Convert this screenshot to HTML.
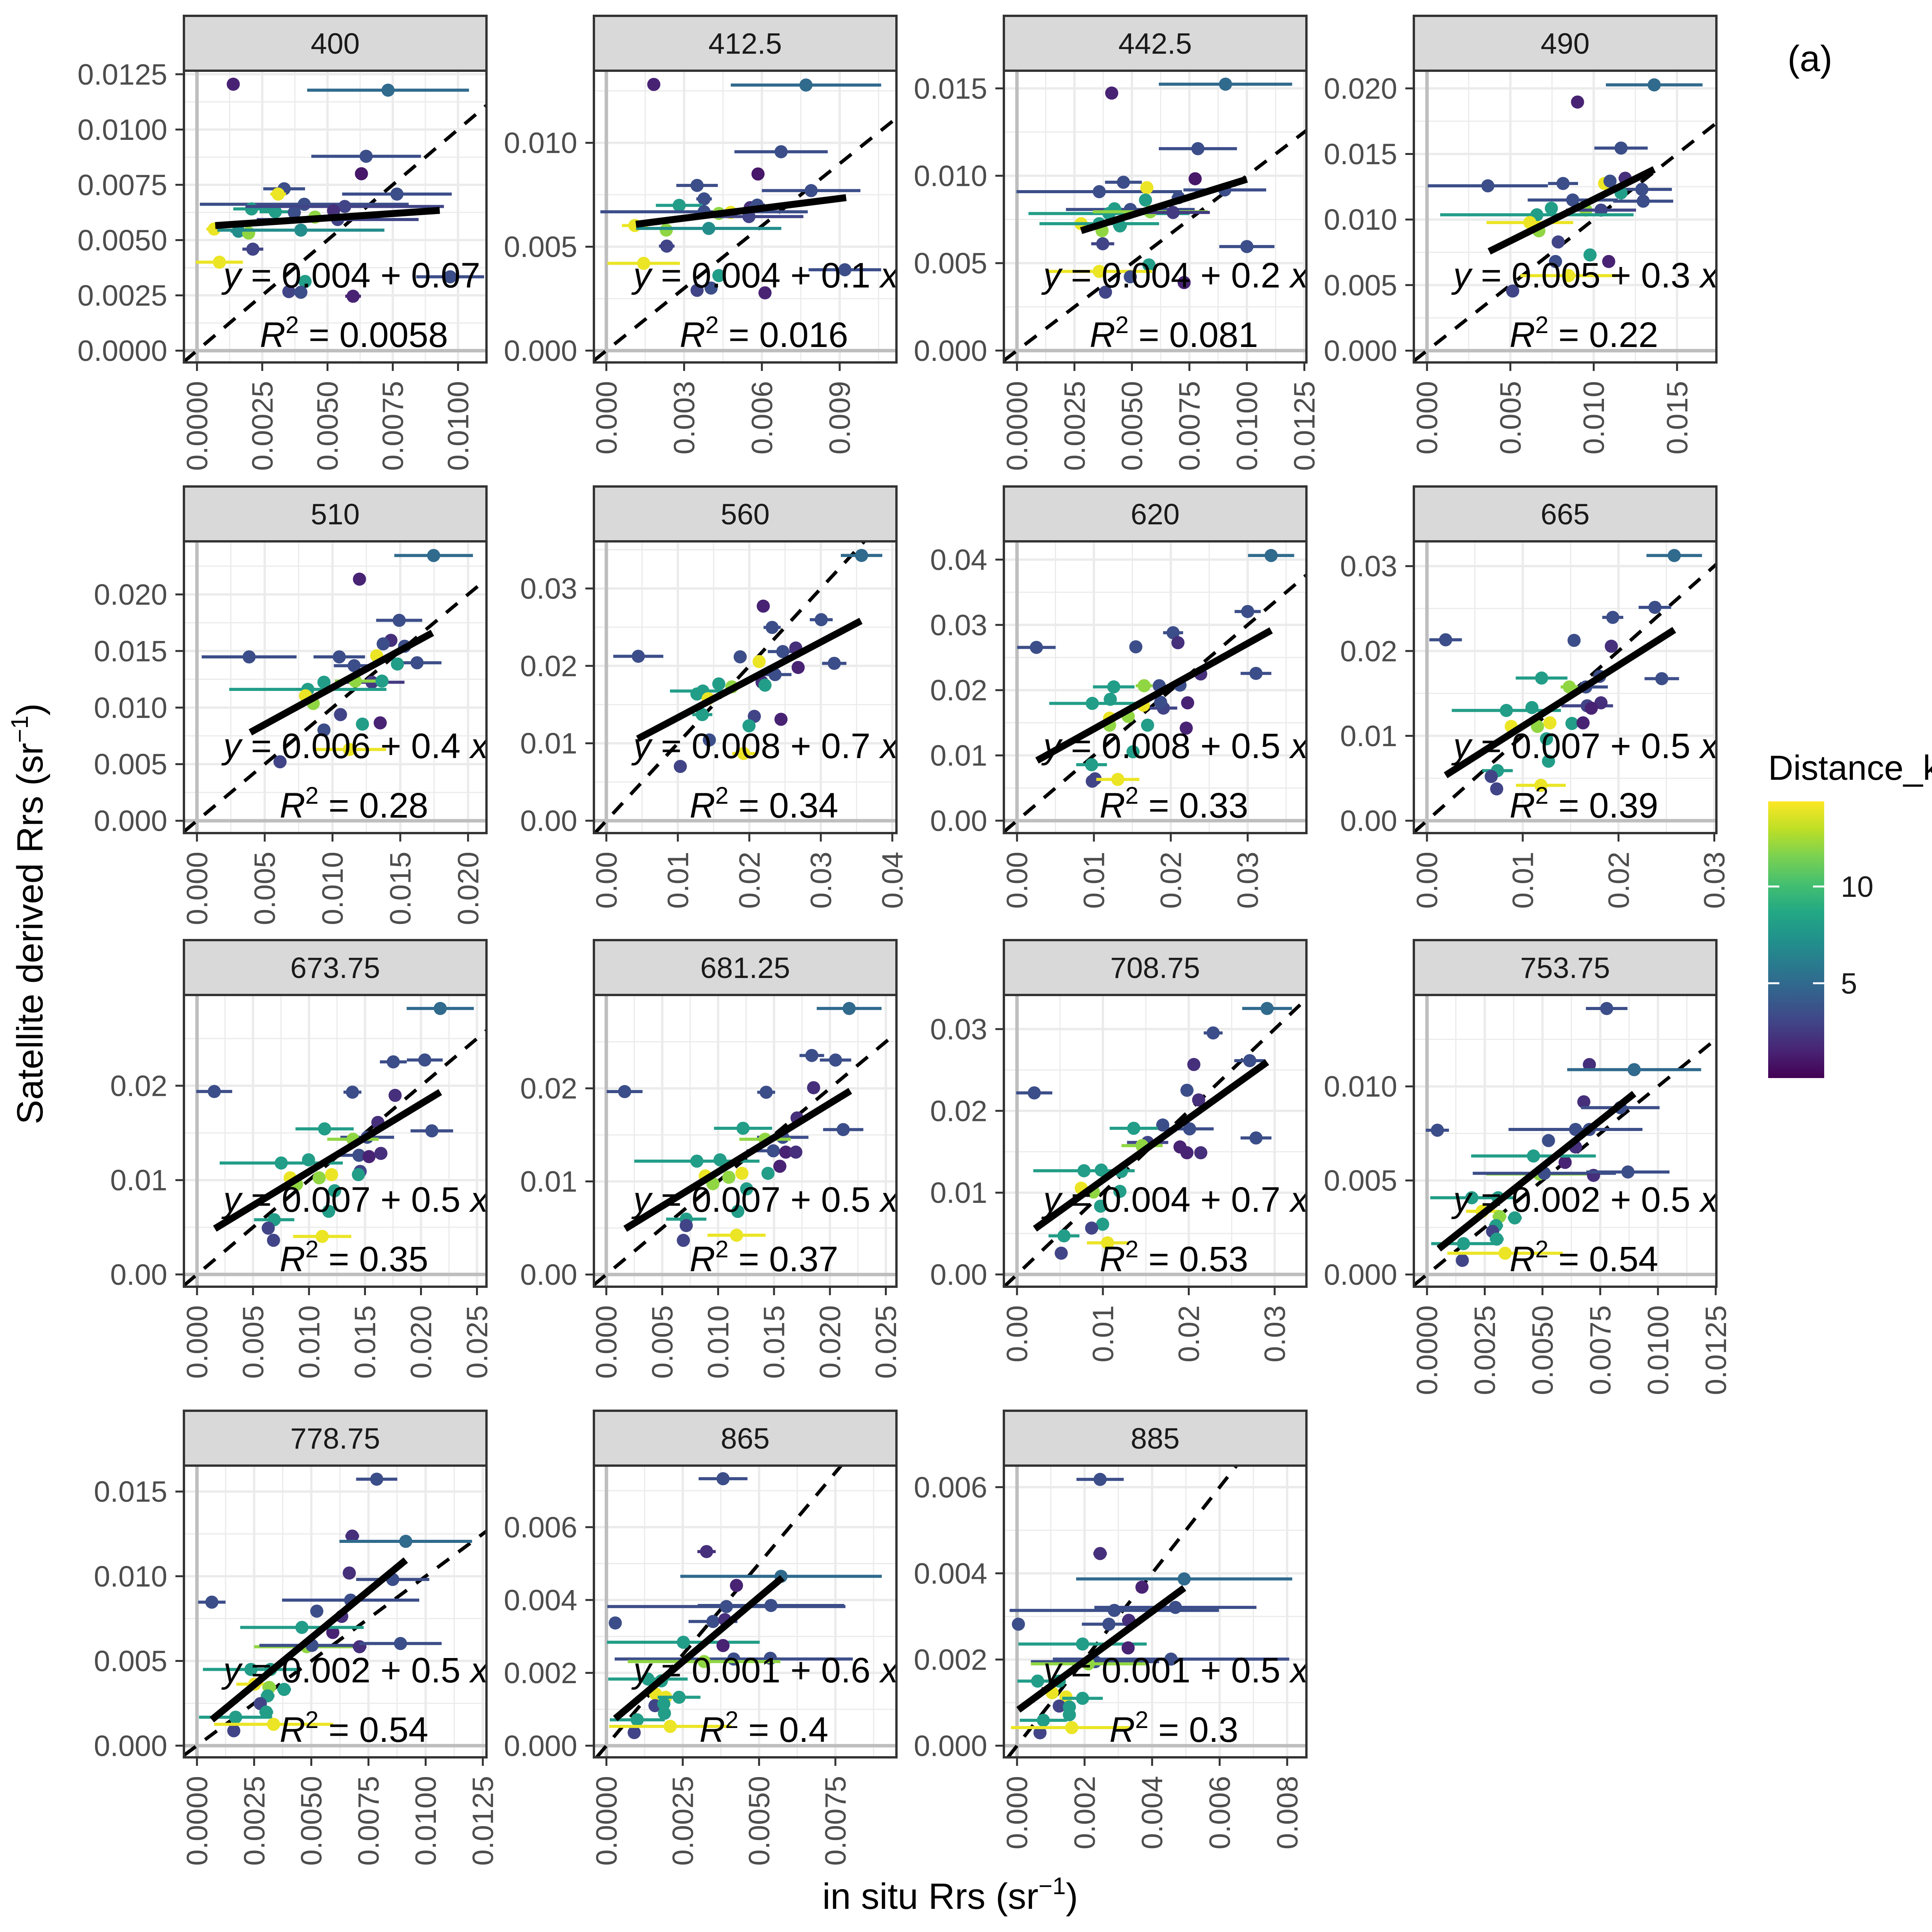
<!DOCTYPE html>
<html><head><meta charset="utf-8"><title>Satellite vs in situ Rrs</title>
<style>html,body{margin:0;padding:0;background:#fff;width:5192px;height:5025px;overflow:hidden}svg{display:block;position:absolute;left:0;top:0}text{font-family:"Liberation Sans",Arial,sans-serif}</style></head>
<body>
<svg id="chart" xmlns="http://www.w3.org/2000/svg" width="5192" height="5025" viewBox="0 0 5192 5025" overflow="hidden">
<rect x="0" y="0" width="5192" height="5025" fill="#fff"/>
<g id="panels"></g>
<text x="110" y="2365" transform="rotate(-90 110 2365)" text-anchor="middle" font-size="95" fill="#000">Satellite derived Rrs (sr<tspan font-size="62" dy="-38">−1</tspan><tspan dy="38">)</tspan></text>
<text x="2459" y="4940" text-anchor="middle" font-size="95" fill="#000">in situ Rrs (sr<tspan font-size="62" dy="-38">−1</tspan><tspan dy="38">)</tspan></text>
<text x="4626" y="184" font-size="95" fill="#000">(a)</text>
<text x="4576" y="2018" font-size="90" fill="#000">Distance_km</text>
<defs><linearGradient id="vir" x1="0" y1="1" x2="0" y2="0">
<stop offset="0" stop-color="#440154"/><stop offset="0.1" stop-color="#482475"/><stop offset="0.2" stop-color="#414487"/><stop offset="0.3" stop-color="#355f8d"/><stop offset="0.4" stop-color="#2a788e"/><stop offset="0.5" stop-color="#21918c"/><stop offset="0.6" stop-color="#22a884"/><stop offset="0.7" stop-color="#44bf70"/><stop offset="0.8" stop-color="#7ad151"/><stop offset="0.9" stop-color="#bddf26"/><stop offset="1" stop-color="#fde725"/>
</linearGradient></defs>
<rect x="4576" y="2074" width="145" height="716" fill="url(#vir)"/>
<g id="legend"></g>
</svg>
<script>
// ---------- data ----------
const bands = ["400","412.5","442.5","490","510","560","620","665","673.75","681.25","708.75","753.75","778.75","865","885"];
const xMin = [-0.0005,-0.00048,-0.00057,-0.00079,-0.00096,-0.00174,-0.00171,-0.00137,-0.00117,-0.00111,-0.00153,-0.00057,-0.00057,-0.00041,-0.00039];
const xMax = [0.01109,0.01119,0.01259,0.01736,0.02136,0.04058,0.03764,0.03022,0.02585,0.02595,0.0337,0.01253,0.01266,0.0095,0.00857];
const yMin = [-0.000534,-0.00057,-0.00068,-0.0009,-0.00109,-0.0016,-0.0019,-0.00146,-0.0013,-0.00131,-0.0015,-0.00065,-0.00069,-0.00032,-0.00027];
const yMax = [0.01266,0.01347,0.01601,0.02135,0.02469,0.03609,0.0428,0.03292,0.02962,0.03003,0.03417,0.01486,0.01653,0.00769,0.0065];
const xTicks = [
 ["0.0000","0.0025","0.0050","0.0075","0.0100"],["0.000","0.003","0.006","0.009"],["0.0000","0.0025","0.0050","0.0075","0.0100","0.0125"],
 ["0.000","0.005","0.010","0.015"],["0.000","0.005","0.010","0.015","0.020"],["0.00","0.01","0.02","0.03","0.04"],["0.00","0.01","0.02","0.03"],
 ["0.00","0.01","0.02","0.03"],["0.000","0.005","0.010","0.015","0.020","0.025"],["0.000","0.005","0.010","0.015","0.020","0.025"],
 ["0.00","0.01","0.02","0.03"],["0.0000","0.0025","0.0050","0.0075","0.0100","0.0125"],["0.0000","0.0025","0.0050","0.0075","0.0100","0.0125"],
 ["0.0000","0.0025","0.0050","0.0075"],["0.000","0.002","0.004","0.006","0.008"]];
const yTicks = [
 ["0.0000","0.0025","0.0050","0.0075","0.0100","0.0125"],["0.000","0.005","0.010"],["0.000","0.005","0.010","0.015"],
 ["0.000","0.005","0.010","0.015","0.020"],["0.000","0.005","0.010","0.015","0.020"],["0.00","0.01","0.02","0.03"],["0.00","0.01","0.02","0.03","0.04"],
 ["0.00","0.01","0.02","0.03"],["0.00","0.01","0.02"],["0.00","0.01","0.02"],["0.00","0.01","0.02","0.03"],["0.000","0.005","0.010"],
 ["0.000","0.005","0.010","0.015"],["0.000","0.002","0.004","0.006"],["0.000","0.002","0.004","0.006"]];
const fitIntercept = [0.0056,0.0059,0.00572,0.00521,0.00523,0.00844,0.00751,0.00395,0.00371,0.00367,0.00401,0.00087,0.00081,0.00054,0.00081];
const fitSlope = [0.08,0.158,0.408,0.632,0.655,0.488,0.655,0.718,0.719,0.736,0.754,0.975,1.111,0.707,0.576];
const fitX0 = [0.0007,0.00114,0.00279,0.00373,0.00394,0.00439,0.0026,0.00195,0.00159,0.00169,0.00209,0.00051,0.00065,0.00029,0.00004];
const fitX1 = [0.0093,0.00925,0.01,0.01363,0.01737,0.03561,0.03305,0.02582,0.02172,0.02182,0.02912,0.00897,0.00913,0.00576,0.00495];
const eqIntercept = ["0.004","0.004","0.004","0.005","0.006","0.008","0.008","0.007","0.007","0.007","0.004","0.002","0.002","0.001","0.001"];
const eqSlope = ["0.07","0.1","0.2","0.3","0.4","0.7","0.5","0.5","0.5","0.5","0.7","0.5","0.5","0.6","0.5"];
const r2Labels = ["0.0058","0.016","0.081","0.22","0.28","0.34","0.33","0.39","0.35","0.37","0.53","0.54","0.54","0.4","0.3"];

const ptX = [
 [.00139,.00732,.00648,.0063,.00334,.00766,.00311,.00411,.00209,.003,.00373,.00566,.00523,.00452,.00539,.00066,.00159,.00198,.00398,.00214,.00086,.00414,.00352,.00398,.00598,.0097],
 [.00183,.0077,.00674,.00585,.0035,.0079,.00377,.00281,.00377,.00434,.0048,.00555,.0055,.00582,.0011,.00231,.00395,.00233,.00144,.00434,.0035,.00404,.00612,.0092],
 [.00412,.00907,.00787,.00775,.00463,.00358,.00904,.00565,.00559,.00703,.00493,.00424,.004,.0058,.00679,.00279,.00358,.00448,.0037,.00373,.01,.00574,.00358,.00493,.00727,.00385],
 [.01363,.00903,.01164,.00365,.00816,.01065,.01098,.01189,.01289,.01164,.01297,.00874,.00746,.00953,.01044,.00659,.00617,.00671,.00787,.00978,.00771,.0109,.0085,.00514],
 [.01746,.01199,.01492,.00385,.0105,.01431,.01374,.01532,.01326,.0116,.01624,.01479,.01291,.01365,.00937,.00818,.01168,.00801,.00858,.01059,.01221,.01352,.00937,.01125,.00613],
 [.0357,.02195,.02319,.03006,.00447,.01872,.02137,.02468,.0265,.03188,.02683,.0236,.02178,.02219,.01573,.0135,.01267,.01756,.01424,.01342,.0207,.02443,.01996,.01441,.01921,.01035],
 [.03305,.00252,.01545,.03,.0203,.02093,.03108,.02389,.0185,.0212,.01653,.01258,.02219,.01904,.01868,.01644,.01213,.00979,.01446,.01204,.01204,.01698,.02201,.01509,.0097,.00979,.01015,.01311],
 [.02582,.00195,.01536,.0238,.0194,.01925,.02452,.01197,.01803,.01659,.01486,.00829,.01096,.01673,.01817,.01716,.0088,.01154,.01284,.01514,.0163,.01248,.01269,.00736,.00671,.00728,.0119],
 [.02172,.00154,.01753,.02034,.01388,.01769,.02097,.01139,.01615,.0152,.01393,.01446,.01536,.01642,.00752,.00996,.00832,.01091,.01202,.00889,.01457,.01441,.01229,.01176,.00689,.00636,.00683,.01118],
 [.02172,.00164,.01838,.0205,.0143,.01854,.02119,.01223,.01706,.01578,.0142,.01494,.01605,.01695,.0081,.01017,.00885,.01096,.01213,.00953,.01446,.01552,.01255,.01176,.00715,.00715,.00689,.01165],
 [.02912,.00201,.02284,.0271,.02059,.01979,.02115,.02783,.01697,.01359,.0201,.01521,.01456,.01898,.01979,.0214,.0078,.00981,.01215,.00748,.0089,.01198,.00973,.00997,.00547,.00869,.00515,.01054],
 [.00778,.00045,.00703,.00897,.00679,.00837,.00643,.00703,.00526,.00643,.00598,.00461,.00487,.00508,.00721,.0087,.00194,.00308,.00239,.00314,.0038,.00299,.00284,.00302,.00158,.00153,.00338],
 [.00786,.00065,.00679,.00913,.00666,.00856,.00672,.00524,.00633,.00594,.00459,.0048,.00503,.00711,.0089,.00236,.00322,.00252,.00316,.00381,.00309,.00277,.00303,.00169,.00161,.00335],
 [.00382,.00328,.00572,.00426,.00539,.00393,.00029,.00349,.00388,.00252,.00382,.00417,.00537,.0032,.00136,.0018,.00161,.00194,.00238,.00159,.00188,.0019,.00101,.00091,.00209],
 [.00246,.00246,.00495,.0037,.00469,.00288,.00004,.00272,.00331,.00194,.00329,.00231,.00456,.00211,.00061,.00125,.00104,.00145,.00194,.00125,.00155,.00155,.00078,.00068,.00162]];
const ptY = [
 [.01205,.01178,.00879,.0080,.00732,.00708,.00708,.00662,.00641,.00628,.00625,.00652,.00633,.00604,.00593,.0055,.0054,.00532,.00545,.00459,.004,.00313,.00267,.00264,.00246,.00334],
 [.01281,.01278,.00957,.0085,.00795,.0077,.0073,.00699,.00668,.0066,.00665,.00688,.00645,.007,.00602,.0058,.00588,.00503,.0042,.00361,.0029,.00301,.00278,.00389],
 [.01473,.01524,.01155,.00983,.00963,.00909,.00919,.00932,.00861,.00875,.00807,.00811,.00784,.00794,.0079,.00726,.00726,.00713,.00686,.00611,.00595,.0049,.00453,.00422,.00389,.00334],
 [.02027,.01896,.01545,.01257,.01275,.01275,.01293,.01315,.0123,.01203,.0114,.01149,.01086,.01072,.01072,.01036,.00977,.00914,.00829,.0073,.0068,.0068,.00572,.00455],
 [.02344,.02135,.01771,.01448,.01448,.01594,.01563,.01542,.01458,.0137,.01396,.01385,.01224,.01234,.01224,.01161,.01234,.01104,.01036,.00938,.00854,.00865,.00802,.0063,.00521],
 [.03427,.02772,.02497,.02597,.02124,.02117,.02056,.02185,.02231,.02033,.0198,.01888,.01789,.01751,.01767,.01675,.01637,.01729,.01576,.01371,.01348,.0131,.01226,.01043,.00868,.00701],
 [.04063,.02655,.02664,.03205,.0288,.02727,.02257,.02248,.02068,.02077,.02068,.0205,.01806,.01725,.01815,.0177,.0186,.01797,.01598,.01571,.01463,.01463,.01418,.01056,.00858,.00605,.00641,.00632],
 [.03125,.02132,.02125,.02514,.02396,.02056,.01674,.01681,.01701,.01576,.01576,.01299,.01333,.01354,.01389,.01326,.01111,.01111,.01153,.01146,.01153,.00965,.00701,.0059,.00521,.00375,.00417],
 [.02819,.01939,.02253,.02273,.01932,.01898,.01522,.01543,.01611,.01454,.01433,.01263,.01249,.01283,.01181,.01215,.01024,.01024,.01058,.00956,.01092,.01058,.00887,.00669,.0058,.00491,.00362,.00403],
 [.02858,.01965,.02353,.02304,.01958,.02007,.01557,.01571,.01682,.01474,.01453,.01329,.01315,.01315,.01218,.01232,.01059,.01045,.01087,.00976,.01087,.01163,.0092,.00678,.00595,.00526,.00367,.00422],
 [.03252,.0222,.02953,.02614,.02567,.02252,.02134,.01669,.01827,.01787,.0178,.01614,.01575,.01559,.01488,.01488,.01268,.01276,.0126,.01055,.01008,.01016,.00835,.00614,.00472,.00567,.0026,.00386],
 [.01414,.00767,.01116,.01089,.00918,.00887,.00771,.00771,.00712,.00678,.00596,.0063,.00534,.00538,.00527,.00545,.00408,.00408,.00336,.00308,.00301,.0026,.00229,.00188,.00164,.00075,.00113],
 [.01573,.00847,.01237,.01206,.01019,.00981,.00859,.00794,.00763,.00668,.00698,.00584,.00592,.00584,.00603,.0045,.0045,.00363,.00344,.00332,.00294,.00248,.00198,.00168,.00088,.00126],
 [.00733,.00533,.00465,.0044,.00385,.00382,.00337,.00341,.00346,.00284,.00275,.00238,.0024,.00231,.00183,.00178,.00142,.00133,.00133,.0011,.00115,.00089,.00071,.00036,.00053],
 [.00618,.00446,.00387,.00368,.00321,.00314,.00282,.00282,.00291,.00236,.00227,.00195,.00201,.0019,.0015,.0015,.00123,.00113,.0011,.00092,.0009,.00072,.00059,.0003,.00042]];
const ptErr = [
 [0,.0031,.0021,0,.0008,.0021,.0003,.004,.0007,.0006,.0002,.0038,0,.0003,.0031,.0003,.0003,0,.0032,.0004,.0009,0,.0002,.0002,.0003,.0013],
 [0,.0029,.0018,0,.0008,.0019,.0003,.0009,.004,.0003,.0003,.0002,.0021,.0003,.0005,.0002,.0028,.0003,.0014,0,.0002,.0002,.0002,.0014],
 [0,.0029,.0017,0,.0008,.0036,.0018,.0002,.0002,.0003,.0028,.0003,.0035,.0025,.0016,.0009,.0026,.0003,.0002,.0005,.0012,.0002,.0023,.0002,.0002,.0002],
 [.0029,0,.0016,.0036,.0009,.0003,.0003,.0004,.0018,.0003,.0018,.0027,.0003,.0004,.0021,.0058,.0026,.0002,.0002,.0002,.0002,.0002,.0029,.0002],
 [.0029,0,.0017,.0035,.0019,.0003,.0003,.0003,.0003,.0015,.0018,.0003,.0024,.0003,.0003,.0058,.0015,.0003,.0003,.0003,.0002,.0002,.0003,.0027,.0002],
 [.0029,0,.0012,.0016,.0035,.0003,.0003,.0021,.0004,.0017,.0003,.0023,.0003,.0003,.0003,.0046,.0006,.0008,.0003,.0014,.0003,.0002,.0003,.0003,.0016,.0002],
 [.003,.0025,0,.0017,.0013,0,.002,.0003,.0003,.0003,.0011,.0027,.0003,.0018,.0003,.0004,.0003,.0056,.0003,.0003,.0003,.0003,.0002,.0003,.002,.0002,.0002,.0028],
 [.0029,.0017,.0003,.0017,.0011,.0003,.0018,.0027,.0003,.0023,.0009,.0057,.0003,.0027,.0003,.0002,.0003,.0003,.0003,.0003,.0002,.0003,.0002,.0016,.0002,.0002,.0026],
 [.003,.0016,.0012,.0016,.0008,.0003,.0019,.0026,.0003,.0024,.0023,.0017,.0002,.0003,.0055,.0003,.0003,.0003,.0003,.0003,.0003,.0003,.0003,.0003,.0018,.0002,.0002,.0026],
 [.0029,.0016,.0011,.0014,.0008,.0003,.0018,.0026,.0003,.0023,.0023,.0024,.0002,.0003,.0056,.0003,.0003,.0003,.0003,.0003,.0003,.0002,.0003,.0003,.0018,.0002,.0002,.0026],
 [.0029,.0021,.0011,.0018,.0003,.0003,.0003,.0018,.0003,.0028,.0028,.0024,.0024,.0002,.0002,.0002,.0059,.0003,.0003,.0003,.0003,.0003,.0003,.0003,.0018,.0002,.0002,.0024],
 [.0009,.0005,.0002,.0029,.0002,.0017,.0029,.0002,.0002,.0002,.0002,.0027,.0023,.0031,.0002,.0018,.0018,.0003,.0007,.0003,.0003,.0003,.0002,.0003,.0014,.0002,.0025],
 [.0009,.0006,.0003,.0029,.0002,.0016,.003,.0002,.0002,.0002,.0027,.0023,.0023,.0003,.0018,.0021,.0003,.0008,.0003,.0003,.0003,.0002,.0003,.0016,.0002,.0026],
 [.0008,.0003,.0033,0,.0024,.0039,0,.0008,0,.0025,0,.0039,0,.0025,.0013,0,0,0,.0007,0,0,0,.0009,0,.002],
 [.0007,.0002,.0032,0,.0024,.0031,0,.0008,.0002,.0019,0,.0019,.0035,.0017,.0006,0,0,0,.0006,0,0,0,.0007,0,.0018]];
const ptDist = [
 [1.5,5,3.5,1,3.5,3.5,14,3.5,8,8,3.5,3,2,12,3,14,7,12,7,3,14,8,3,3.5,1.5,3.5],
 [1.5,5,3.5,1,3.5,3.5,3.5,8,3.5,12,14,2,3,3.5,14,12,7,3,14,8,3,3.5,1.5,3.5],
 [1.5,5,3.5,1,3.5,3.5,3.5,14,8,3.5,3.5,8,8,12,2.5,14,8,8,12,3,3.5,8,14,3.5,1.5,3],
 [5,1.5,3.5,3.5,3.5,14,3.5,2,3.5,8,3.5,3.5,8,12,3,8,14,12,3,8,3.5,1.5,14,3],
 [5,1.5,3.5,3.5,3.5,2,3.5,3.5,14,3.5,3.5,8,2.5,8,8,8,12,14,12,3,8,1.5,3.5,14,3],
 [5,1.5,3.5,3.5,3.5,3.5,14,3.5,2,3.5,1.5,3.5,2,8,8,8,8,12,14,8,3,1.5,8,3.5,14,3],
 [5,3.5,3.5,3.5,3.5,2,3.5,2,3.5,3.5,12,8,1.5,3,3.5,14,8,8,12,14,12,8,1.5,8,8,3,3,14],
 [5,3.5,3.5,3.5,3.5,2,3.5,8,3.5,3.5,12,8,8,3,2,1.5,14,12,14,8,1.5,8,8,8,3,3,14],
 [5,3.5,3.5,3.5,3.5,2,3.5,8,2,3.5,12,3.5,1.5,2,8,8,14,12,14,12,3,8,8,8,8,3,3,14],
 [5,3.5,3.5,3.5,3.5,2,3.5,8,2,3.5,12,3.5,1.5,2,8,8,14,12,14,12,8,1.5,8,8,8,3,3,14],
 [5,3.5,3.5,3.5,2,3.5,2,3.5,3.5,8,3.5,3,12,1.5,1.5,2,8,8,8,14,12,8,8,8,8,3,3,14],
 [3.5,3.5,2,5,2,3.5,3.5,3.5,3.5,2,1.5,8,12,3.5,2,3.5,8,8,14,12,8,8,3,8,8,3,14],
 [3.5,3.5,2,5,2,3.5,3.5,3.5,2,1.5,8,12,3.5,2,3.5,8,8,14,12,8,8,3,8,8,3,14],
 [3.5,2,5,1.5,3.5,3.5,3.5,3.5,2,8,1.5,3.5,3.5,12,8,8,14,14,8,3,8,8,8,3,14],
 [3.5,2,5,1.5,3.5,3.5,3.5,3.5,2,8,1.5,3.5,3.5,12,8,8,14,14,8,3,8,8,8,3,14]];
const legendTicks = [5, 10];
const distLimits = [0.1, 14.4];

// ---------- layout ----------
const NS = "http://www.w3.org/2000/svg";
const colLeft = [476,1537,2598,3659], rowTop = [41,1259,2433,3651];
const PW = 783, SH = 142, PH = 755;
const stops = [[68,1,84],[72,36,117],[65,68,135],[53,95,141],[42,120,142],[33,145,140],[34,168,132],[68,191,112],[122,209,81],[189,223,38],[253,231,37]];
function viridis(d){
  let t = (d-distLimits[0])/(distLimits[1]-distLimits[0]); t = Math.max(0,Math.min(1,t));
  const f = t*10, i = Math.min(9,Math.floor(f)), r = f-i;
  const c = stops[i].map((v,k)=>Math.round(v+(stops[i+1][k]-v)*r));
  return `rgb(${c[0]},${c[1]},${c[2]})`;
}
function mk(tag, attrs, parent){ const e=document.createElementNS(NS,tag); for(const k in attrs) e.setAttribute(k,attrs[k]); parent.appendChild(e); return e; }

const root = document.getElementById('panels');
const defs = mk('defs',{},root);
bands.forEach((band,p)=>{
  const L = colLeft[p%4], T = rowTop[Math.floor(p/4)], PT = T+SH, PB = PT+PH, R = L+PW;
  const sx = v => L + (v-xMin[p])/(xMax[p]-xMin[p])*PW;
  const sy = v => PB - (v-yMin[p])/(yMax[p]-yMin[p])*PH;
  const g = mk('g',{},root);
  
  
  const cp = mk('clipPath',{id:'clip'+p},defs);
  mk('rect',{x:L,y:PT,width:PW,height:PH},cp);
  const st = mk('rect',{x:L,y:T,width:PW,height:SH,fill:'#D9D9D9',stroke:'#333',"stroke-width":6},g);
  
  
  const stt = mk('text',{x:L+PW/2,y:T+SH/2+27,"text-anchor":"middle","font-size":76,fill:'#1A1A1A'},g);
  stt.textContent = band;
  
  
  mk('rect',{x:L,y:PT,width:PW,height:PH,fill:'#fff'},g);
  const inner = mk('g',{"clip-path":`url(#clip${p})`},g);
  
  
  const xt = xTicks[p].map(Number), yt = yTicks[p].map(Number);
  const xs = xt[1]-xt[0], ys = yt[1]-yt[0];
  for(let v=xt[0]-xs/2; v<=xMax[p]; v+=xs) if(v>=xMin[p]) mk('line',{x1:sx(v),x2:sx(v),y1:PT,y2:PB,stroke:'#EBEBEB',"stroke-width":3},inner);
  for(let v=yt[0]-ys/2; v<=yMax[p]; v+=ys) if(v>=yMin[p]) mk('line',{y1:sy(v),y2:sy(v),x1:L,x2:R,stroke:'#EBEBEB',"stroke-width":3},inner);
  xt.forEach(v=>mk('line',{x1:sx(v),x2:sx(v),y1:PT,y2:PB,stroke:'#EBEBEB',"stroke-width":6},inner));
  yt.forEach(v=>mk('line',{y1:sy(v),y2:sy(v),x1:L,x2:R,stroke:'#EBEBEB',"stroke-width":6},inner));
  mk('line',{x1:sx(0),x2:sx(0),y1:PT,y2:PB,stroke:'#BEBEBE',"stroke-width":9},inner);
  mk('line',{y1:sy(0),y2:sy(0),x1:L,x2:R,stroke:'#BEBEBE',"stroke-width":9},inner);
  const lo = Math.max(xMin[p],yMin[p]), hi = Math.min(xMax[p],yMax[p]);
  const dl = mk('line',{x1:sx(lo),y1:sy(lo),x2:sx(hi),y2:sy(hi),stroke:'#000',"stroke-width":9,"stroke-dasharray":"38 30"},inner);
  
  
  ptX[p].forEach((x,i)=>{
    const y = ptY[p][i], e = ptErr[p][i], col = viridis(ptDist[p][i]);
    if(e>0){
      const a = Math.max(xMin[p], x-e), b = Math.min(xMax[p], x+e);
      const eb = mk('line',{x1:sx(a),x2:sx(b),y1:sy(y),y2:sy(y),stroke:col,"stroke-width":8},inner);
      
      
    }
    const c = mk('circle',{cx:sx(x),cy:sy(y),r:17,fill:col},inner);
    
    
  });
  const rl = mk('line',{x1:sx(fitX0[p]),y1:sy(fitIntercept[p]+fitSlope[p]*fitX0[p]),x2:sx(fitX1[p]),y2:sy(fitIntercept[p]+fitSlope[p]*fitX1[p]),stroke:'#000',"stroke-width":18},inner);
  
  
  const eq = mk('text',{x:L+102,y:PT+561,"font-size":92,fill:'#000'},inner);
  eq.innerHTML = `<tspan font-style="italic">y</tspan> = ${eqIntercept[p]} + ${eqSlope[p]} <tspan font-style="italic">x</tspan>`;
  
  
  const r2 = mk('text',{x:L+440,y:PT+715,"font-size":92,fill:'#000',"text-anchor":"middle"},inner);
  r2.innerHTML = `<tspan font-style="italic">R</tspan><tspan font-size="62" dy="-36">2</tspan><tspan dy="36"> = ${r2Labels[p]}</tspan>`;
  
  
  const bd = mk('rect',{x:L,y:PT,width:PW,height:PH,fill:'none',stroke:'#333',"stroke-width":6},g);
  
  
  xTicks[p].forEach(lbl=>{
    const X = sx(Number(lbl));
    mk('line',{x1:X,x2:X,y1:PB,y2:PB+22,stroke:'#333',"stroke-width":5},g);
    const t = mk('text',{x:X,y:PB+48,transform:`rotate(-90 ${X} ${PB+48})`,"text-anchor":"end",dy:"0.35em","font-size":76,fill:'#4D4D4D'},g);
    t.textContent = lbl;
    
    
  });
  yTicks[p].forEach(lbl=>{
    const Y = sy(Number(lbl));
    mk('line',{x1:L-22,x2:L,y1:Y,y2:Y,stroke:'#333',"stroke-width":5},g);
    const t = mk('text',{x:L-43,y:Y,"text-anchor":"end",dy:"0.35em","font-size":76,fill:'#4D4D4D'},g);
    t.textContent = lbl;
    
    
  });
});
const lg = document.getElementById('legend');
legendTicks.forEach(v=>{
  const Y = 2790 - (v-distLimits[0])/(distLimits[1]-distLimits[0])*716;
  mk('line',{x1:4576,x2:4605,y1:Y,y2:Y,stroke:'#fff',"stroke-width":5},lg);
  mk('line',{x1:4692,x2:4721,y1:Y,y2:Y,stroke:'#fff',"stroke-width":5},lg);
  const t = mk('text',{x:4764,y:Y,dy:"0.35em","font-size":76,fill:'#1A1A1A'},lg);
  t.textContent = String(v);
  
  
});
</script>
</body></html>
